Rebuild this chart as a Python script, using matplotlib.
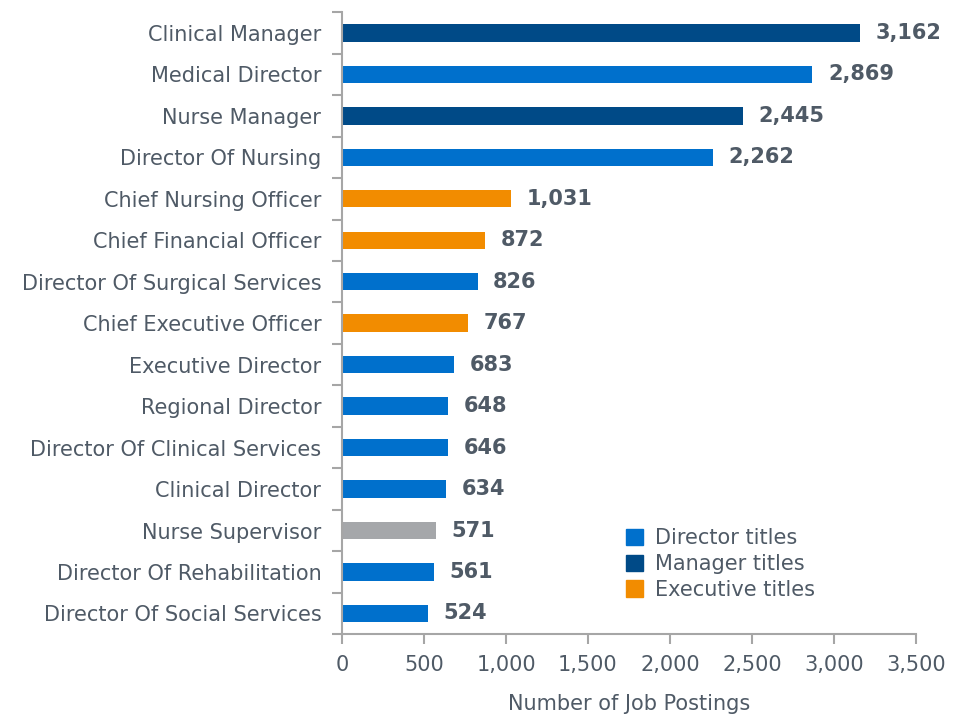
import matplotlib
matplotlib.use("Agg")
import matplotlib.pyplot as plt
from matplotlib.patches import Patch
import numpy as np

plt.rcParams["font.family"] = ["DejaVu Sans"]

titles = ["Clinical Manager", "Medical Director", "Nurse Manager", "Director Of Nursing",
          "Chief Nursing Officer", "Chief Financial Officer", "Director Of Surgical Services",
          "Chief Executive Officer", "Executive Director", "Regional Director",
          "Director Of Clinical Services", "Clinical Director", "Nurse Supervisor",
          "Director Of Rehabilitation", "Director Of Social Services"]
postings = [3162, 2869, 2445, 2262, 1031, 872, 826, 767, 683, 648, 646, 634, 571, 561, 524]
groups = ["Manager", "Director", "Manager", "Director", "Executive", "Executive", "Director",
          "Executive", "Director", "Director", "Director", "Director", "Other", "Director", "Director"]

colors = {"Director": "#0070cc", "Manager": "#004a87", "Executive": "#f28c00", "Other": "#a5a7aa"}
text_col = "#4f5a66"
spine_col = "#a6a6a6"
fs = 15

fig = plt.figure(figsize=(9.61, 7.15), dpi=100)
ax = fig.add_axes([0.356, 0.113, 0.597, 0.870])

y = np.arange(len(titles))
ax.barh(y, postings, height=0.42, color=[colors[g] for g in groups])
for yi, v in zip(y, postings):
    ax.text(v + 95, yi, f"{v:,}", va="center", ha="left", fontsize=fs, fontweight="bold", color=text_col)

ax.set_ylim(len(titles) - 0.5, -0.5)
ax.set_xlim(0, 3500)
ax.set_yticks(y)
ax.set_yticklabels(titles, fontsize=fs, color=text_col)
ax.set_yticks(np.arange(len(titles) + 1) - 0.5, minor=True)
ax.tick_params(axis="y", which="major", length=0, pad=15)
ax.tick_params(axis="y", which="minor", length=7, color=spine_col, width=1.5)
ax.set_xticks(np.arange(0, 3501, 500))
ax.set_xticklabels([f"{t:,}" for t in range(0, 3501, 500)], fontsize=fs, color=text_col)
ax.tick_params(axis="x", length=7, color=spine_col, width=1.5, pad=8)
ax.set_xlabel("Number of Job Postings", fontsize=fs, color=text_col, labelpad=14)

for s in ["top", "right"]:
    ax.spines[s].set_visible(False)
for s in ["left", "bottom"]:
    ax.spines[s].set_color(spine_col)
    ax.spines[s].set_linewidth(1.5)

handles = [Patch(color=colors["Director"], label="Director titles"),
           Patch(color=colors["Manager"], label="Manager titles"),
           Patch(color=colors["Executive"], label="Executive titles")]
leg = fig.legend(handles=handles, loc="upper left", bbox_to_anchor=(0.643, 0.273), frameon=False,
                 fontsize=fs, handlelength=0.82, handleheight=0.82, handletextpad=0.58,
                 labelspacing=0.28, borderpad=0.4, borderaxespad=0)
for t in leg.get_texts():
    t.set_color(text_col)

fig.savefig("out.png", dpi=100)
